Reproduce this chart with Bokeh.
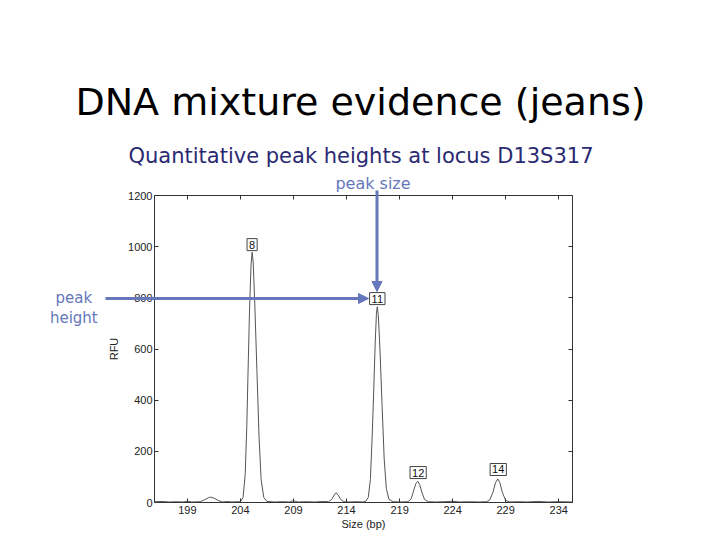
from bokeh.plotting import figure
from bokeh.models import LinearAxis, FixedTicker, Label, Arrow, NormalHead, ColumnDataSource
from bokeh.core.properties import value
from bokeh.embed import file_html
from bokeh.resources import INLINE

# --- data ---
size_bp = [195.9, 196.6, 197.3, 198.0, 198.6, 199.0, 199.4, 200.2, 200.6, 201.0, 201.2, 201.5, 201.9,
           202.3, 202.8, 203.2, 203.6, 204.0, 204.25, 204.45, 204.6, 204.7, 204.85, 205.0, 205.1,
           205.2, 205.35, 205.55, 205.75, 205.95, 206.2, 206.5, 207.2, 208.0, 208.6, 209.0, 209.4,
           210.2, 211.0, 211.8, 212.3, 212.6, 212.85, 213.0, 213.2, 213.45, 213.75, 214.3, 215.0,
           215.5, 215.8, 216.05, 216.25, 216.4, 216.55, 216.7, 216.82, 216.9, 217.0, 217.15, 217.35,
           217.55, 217.75, 218.0, 218.4, 219.0, 219.8, 220.1, 220.35, 220.55, 220.72, 220.9, 221.1,
           221.35, 221.7, 222.4, 223.2, 224.0, 224.6, 225.5, 226.5, 227.2, 227.5, 227.8, 228.05,
           228.26, 228.45, 228.7, 229.0, 229.4, 230.2, 231.0, 232.0, 233.0, 234.0, 235.3]
rfu = [3, 4, 2, 3, 2, 5, 2, 3, 10, 19, 21, 17, 8,
       2, 4, 2, 3, 3, 20, 110, 300, 480, 740, 930, 978,
       940, 780, 520, 260, 90, 20, 4, 2, 3, 2, 7, 2,
       3, 2, 4, 3, 12, 30, 38, 30, 12, 3, 2, 3,
       2, 4, 20, 90, 240, 420, 620, 740, 765, 730, 600, 380,
       170, 55, 12, 3, 2, 3, 15, 50, 75, 83, 70, 40,
       12, 3, 2, 3, 5, 2, 3, 2, 3, 10, 40, 78,
       92, 78, 38, 8, 2, 3, 2, 4, 2, 3, 2]

allele_names = ["8", "11", "12", "14"]
allele_size = [205.1, 216.9, 220.75, 228.3]
allele_label_rfu = [1008, 797, 117, 129]

x_ticks = [199, 204, 209, 214, 219, 224, 229, 234]
y_ticks = [0, 200, 400, 600, 800, 1000, 1200]
x_limits = (195.9, 235.3)
y_limits = (0, 1200)

# --- layout: plot box position on the 720x540 canvas ---
W, H = 720, 540
FL, FR, FT, FB = 154, 572, 195, 502
sx = (FR - FL) / (x_limits[1] - x_limits[0])
sy = (FB - FT) / (y_limits[1] - y_limits[0])


def px2x(px):
    return x_limits[0] + (px - FL) / sx


def py2y(py):
    return y_limits[0] + (FB - py) / sy


FONT = "Liberation Sans"
TFONT = "DejaVu Sans"
BLUE = "#6677bb"
AX = "#333333"

p = figure(width=W, height=H, x_range=(px2x(0), px2x(W)), y_range=(py2y(H), py2y(0)),
           output_backend="svg", toolbar_location=None,
           x_axis_location=None, y_axis_location=None,
           min_border=0, min_border_left=0, min_border_right=0, min_border_top=0, min_border_bottom=0)
p.grid.visible = False
p.outline_line_color = None
p.background_fill_color = "white"
p.border_fill_color = "white"


def make_axis(loc, bounds, ticks, labels=True, label=None, standoff=3, label_standoff=1):
    ax = LinearAxis(fixed_location=loc, bounds=bounds, ticker=FixedTicker(ticks=ticks))
    ax.major_tick_in = 4
    ax.major_tick_out = 0
    ax.minor_tick_line_color = None
    ax.axis_line_color = AX
    ax.major_tick_line_color = AX
    ax.major_label_text_font = FONT
    ax.major_label_text_font_size = "11px"
    ax.major_label_text_color = "#222222" if labels else None
    ax.major_label_standoff = standoff
    if label:
        ax.axis_label = label
        ax.axis_label_text_font = FONT
        ax.axis_label_text_font_size = "11px"
        ax.axis_label_text_font_style = "normal"
        ax.axis_label_text_color = "#222222"
        ax.axis_label_standoff = label_standoff
    return ax


p.add_layout(make_axis(y_limits[0], x_limits, x_ticks, label="Size (bp)", standoff=3, label_standoff=1), "below")
p.add_layout(make_axis(x_limits[0], y_limits, y_ticks, label="RFU", standoff=2, label_standoff=5), "left")
p.add_layout(make_axis(y_limits[1], x_limits, x_ticks, labels=False), "above")
p.add_layout(make_axis(x_limits[1], y_limits, y_ticks, labels=False), "right")

p.line(size_bp, rfu, line_color="#555555", line_width=1)

src = ColumnDataSource(dict(x=allele_size, y=allele_label_rfu, t=allele_names))
p.text(x="x", y="y", text="t", source=src, text_align="center", text_baseline="middle",
       text_font=value(FONT), text_font_size="11px", text_color="#111111",
       background_fill_color="white", border_line_color="#444444", padding=2)

# titles and annotations
p.add_layout(Label(x=px2x(360), y=py2y(101.5), text="DNA mixture evidence (jeans)", text_align="center",
                   text_baseline="alphabetic", text_font=TFONT, text_font_size="38px", text_color="black"))
p.add_layout(Label(x=px2x(360.5), y=py2y(155.5), text="Quantitative peak heights at locus D13S317",
                   text_align="center", text_baseline="alphabetic", text_font=TFONT, text_font_size="21px",
                   text_color="#2a2a72"))
p.add_layout(Label(x=px2x(372.5), y=py2y(183), text="peak size", text_align="center",
                   text_baseline="alphabetic", text_font=TFONT, text_font_size="16px", text_color=BLUE))
p.add_layout(Label(x=px2x(73.3), y=py2y(297), text="peak", text_align="center",
                   text_baseline="alphabetic", text_font=TFONT, text_font_size="15px", text_color=BLUE))
p.add_layout(Label(x=px2x(73.3), y=py2y(317.5), text="height", text_align="center",
                   text_baseline="alphabetic", text_font=TFONT, text_font_size="15px", text_color=BLUE))

p.add_layout(Arrow(x_start=px2x(376.5), y_start=py2y(190), x_end=px2x(376.5), y_end=py2y(291),
                   line_color=BLUE, line_width=3,
                   end=NormalHead(size=10, fill_color=BLUE, line_color=BLUE)))
p.add_layout(Arrow(x_start=px2x(105), y_start=py2y(298), x_end=px2x(368), y_end=py2y(298),
                   line_color=BLUE, line_width=3,
                   end=NormalHead(size=10, fill_color=BLUE, line_color=BLUE)))

open("out.html", "w").write(file_html(p, INLINE))
